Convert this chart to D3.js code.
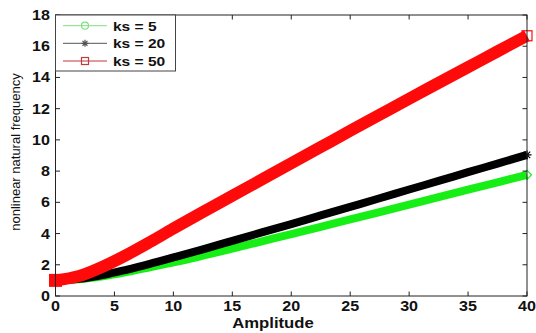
<!DOCTYPE html>
<html>
<head>
<meta charset="utf-8">
<script src="https://cdn.jsdelivr.net/npm/d3@7/dist/d3.min.js"></script>
<style>
html,body{margin:0;padding:0;background:#fff;}
svg{display:block;}
</style>
</head>
<body>
<svg id="chart" width="536" height="333"></svg>
<script>
// ---- data ----
const amplitude = [0, 2, 4, 6, 8, 10, 12.5, 15, 17.5, 20, 22.5, 25, 27.5, 30, 32.5, 35, 37.5, 40];
const freqKs5  = [1.00, 1.07, 1.26, 1.53, 1.84, 2.15, 2.58, 3.03, 3.50, 3.97, 4.43, 4.91, 5.38, 5.86, 6.33, 6.81, 7.28, 7.76];
const freqKs20 = [1.00, 1.10, 1.34, 1.68, 2.06, 2.47, 2.99, 3.53, 4.07, 4.61, 5.16, 5.71, 6.26, 6.82, 7.37, 7.93, 8.48, 9.04];
const freqKs50 = [1.00, 1.28, 1.88, 2.62, 3.45, 4.32, 5.38, 6.42, 7.46, 8.50, 9.54, 10.58, 11.61, 12.64, 13.65, 14.66, 15.67, 16.67];
const seriesNames = ["ks = 5", "ks = 20", "ks = 50"];
const xTicks = [0, 5, 10, 15, 20, 25, 30, 35, 40];
const yTicks = [0, 2, 4, 6, 8, 10, 12, 14, 16, 18];
const xLabel = "Amplitude";
const yLabel = "nonlinear natural frequency";

const series = [
  {name: seriesNames[0], values: freqKs5,  color: "#16ee16", legendColor: "#7ee07e", width: 8,  marker: "diamond", legendMarker: "circle"},
  {name: seriesNames[1], values: freqKs20, color: "#000000", legendColor: "#555555", width: 8,  marker: "star",    legendMarker: "star"},
  {name: seriesNames[2], values: freqKs50, color: "#ff0a0a", legendColor: "#c0393b", width: 12, marker: "square",  legendMarker: "square"}
];

// ---- layout ----
const svg = d3.select("#chart");
const L = 55.5, R = 527, T = 15, B = 296;
const x = d3.scaleLinear().domain([0, 40]).range([L, R]);
const y = d3.scaleLinear().domain([0, 18]).range([B, T]);
const font = "'Liberation Sans', Arial, sans-serif";
const SX = 1.15; // horizontal stretch seen in the reference's bold text

// curves
const line = d3.line().x((d, i) => x(amplitude[i])).y(d => y(d)).curve(d3.curveMonotoneX);
const plot = svg.append("g");
series.forEach(s => {
  plot.append("path")
    .datum(s.values)
    .attr("d", line)
    .attr("fill", "none")
    .attr("stroke", s.color)
    .attr("stroke-width", s.width)
    .attr("stroke-linecap", "butt");
  const h = s.width / 2 + 0.5;
  plot.append("rect")
    .attr("x", x(amplitude[0]) - h).attr("y", y(s.values[0]) - h)
    .attr("width", 2 * h).attr("height", 2 * h)
    .attr("fill", s.color);
});

function drawMarker(g, type, cx, cy, color, size, sw) {
  if (type === "square") {
    g.append("rect").attr("x", cx - size).attr("y", cy - size)
      .attr("width", 2 * size).attr("height", 2 * size)
      .attr("fill", "none").attr("stroke", color).attr("stroke-width", sw);
  } else if (type === "circle") {
    g.append("circle").attr("cx", cx).attr("cy", cy).attr("r", size)
      .attr("fill", "none").attr("stroke", color).attr("stroke-width", sw);
  } else if (type === "diamond") {
    g.append("path")
      .attr("d", `M${cx},${cy - size}L${cx + size},${cy}L${cx},${cy + size}L${cx - size},${cy}Z`)
      .attr("fill", "none").attr("stroke", color).attr("stroke-width", sw);
  } else if (type === "star") {
    const p = [];
    for (let k = 0; k < 4; k++) {
      const a = k * Math.PI / 4;
      p.push(`M${cx - size * Math.cos(a)},${cy - size * Math.sin(a)}L${cx + size * Math.cos(a)},${cy + size * Math.sin(a)}`);
    }
    g.append("path").attr("d", p.join("")).attr("fill", "none")
      .attr("stroke", color).attr("stroke-width", sw);
  }
}

series.forEach(s => {
  const n = amplitude.length - 1;
  drawMarker(plot, s.marker, x(amplitude[n]), y(s.values[n]), s.color, s.marker === "square" ? 5 : 4.5, 1.2);
});

// ---- axes box & ticks ----
const ax = svg.append("g").attr("stroke", "#222").attr("stroke-width", 1);
ax.append("rect").attr("x", L).attr("y", T).attr("width", R - L).attr("height", B - T)
  .attr("fill", "none");
const tl = 4.5;
xTicks.forEach(t => {
  ax.append("line").attr("x1", x(t)).attr("x2", x(t)).attr("y1", B).attr("y2", B - tl);
  ax.append("line").attr("x1", x(t)).attr("x2", x(t)).attr("y1", T).attr("y2", T + tl);
});
yTicks.forEach(t => {
  ax.append("line").attr("x1", L).attr("x2", L + tl).attr("y1", y(t)).attr("y2", y(t));
  ax.append("line").attr("x1", R).attr("x2", R - tl).attr("y1", y(t)).attr("y2", y(t));
});

function stretchedText(g, tx, ty, str, size, anchor, weight) {
  g.append("text")
    .attr("transform", `translate(${tx},${ty}) scale(${SX},1)`)
    .attr("text-anchor", anchor)
    .attr("font-family", font).attr("font-weight", weight)
    .attr("font-size", size).attr("fill", "#111").text(str);
}

// tick labels
const labels = svg.append("g");
xTicks.forEach(t => stretchedText(labels, x(t), 311, t, 14, "middle", "bold"));
yTicks.forEach(t => stretchedText(labels, 50, y(t) + 5, t, 14, "end", "bold"));

// axis titles
stretchedText(svg, 273, 328, xLabel, 14.5, "middle", "bold");
svg.append("text")
  .attr("transform", `translate(19.5,${152}) rotate(-90)`)
  .attr("text-anchor", "middle").attr("font-family", font)
  .attr("font-size", 13).attr("fill", "#111").text(yLabel);

// ---- legend ----
const lg = svg.append("g");
lg.append("rect").attr("x", L).attr("y", T).attr("width", 175.5 - L).attr("height", 71 - T)
  .attr("fill", "#fff").attr("stroke", "#444").attr("stroke-width", 1);
const rowY = [25.7, 43.3, 61];
series.forEach((s, i) => {
  lg.append("line").attr("x1", 63).attr("x2", 107).attr("y1", rowY[i]).attr("y2", rowY[i])
    .attr("stroke", s.legendColor).attr("stroke-width", 1);
  drawMarker(lg, s.legendMarker, 85, rowY[i], s.legendColor, 3.5, 1.2);
  stretchedText(lg, 113, rowY[i] + 4.8, s.name, 13.5, "start", "bold");
});
</script>
</body>
</html>
